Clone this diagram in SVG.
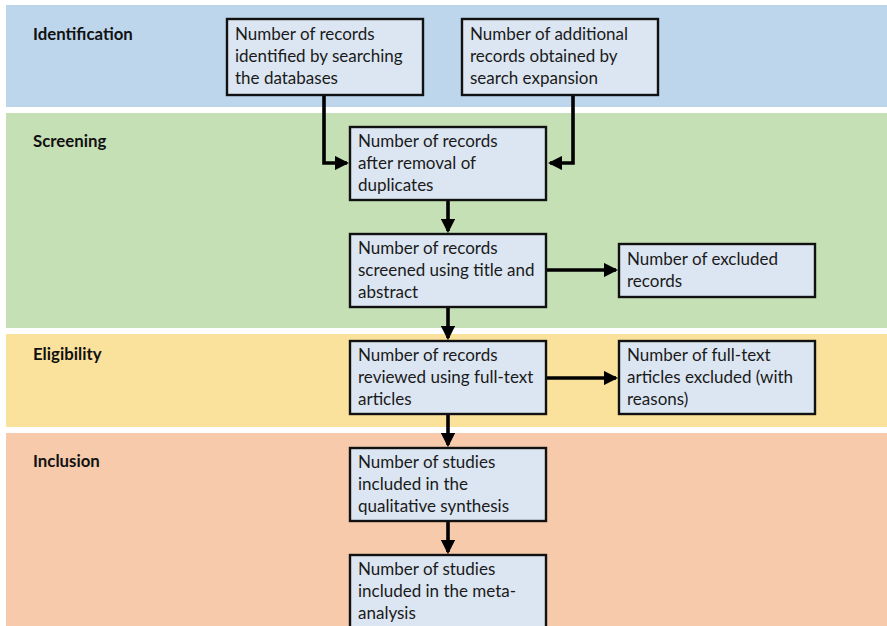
<svg xmlns="http://www.w3.org/2000/svg" width="887" height="626" viewBox="0 0 887 626">
  <style>
    .band-label { font-family: "Lato", "Liberation Sans", sans-serif; font-size: 16.8px; font-weight: bold; fill: #111; }
    .box rect { fill: #dce6f2; stroke: #111; stroke-width: 2.4; }
    .box text { font-family: "Lato", "Liberation Sans", sans-serif; font-size: 17px; fill: #1a1a1a; }
    .conn { fill: none; stroke: #000; stroke-width: 3.6; }
  </style>
  <defs>
    <marker id="head" markerWidth="4" markerHeight="4" refX="3.4" refY="2" orient="auto" markerUnits="strokeWidth">
      <path d="M0,0 L4,2 L0,4 Z" fill="#000"/>
    </marker>
  </defs>

  <rect width="887" height="626" fill="#ffffff"/>

  <!-- phase bands -->
  <g id="bands">
    <rect x="6" y="5" width="881" height="102" fill="#bdd6ec"/>
    <rect x="6" y="113" width="881" height="215" fill="#c6e0b5"/>
    <rect x="6" y="334" width="881" height="93" fill="#fbe29c"/>
    <rect x="6" y="433" width="881" height="193" fill="#f6caab"/>
    <text class="band-label" x="33" y="40">Identification</text>
    <text class="band-label" x="33" y="147">Screening</text>
    <text class="band-label" x="33" y="360">Eligibility</text>
    <text class="band-label" x="33" y="467">Inclusion</text>
  </g>

  <!-- connectors -->
  <g id="connectors">
    <path class="conn" d="M324,95 V163 H347" marker-end="url(#head)"/>
    <path class="conn" d="M573,95 V163 H550" marker-end="url(#head)"/>
    <path class="conn" d="M448,200 V231" marker-end="url(#head)"/>
    <path class="conn" d="M546,270 H616" marker-end="url(#head)"/>
    <path class="conn" d="M448,307 V338" marker-end="url(#head)"/>
    <path class="conn" d="M546,378 H616" marker-end="url(#head)"/>
    <path class="conn" d="M448,414 V445" marker-end="url(#head)"/>
    <path class="conn" d="M448,521 V552" marker-end="url(#head)"/>
  </g>

  <g id="records-identified" class="box">
    <rect x="227" y="19" width="196" height="76"/>
    <text x="235" y="40">Number of records</text>
    <text x="235" y="62">identified by searching</text>
    <text x="235" y="84">the databases</text>
  </g>

  <g id="records-additional" class="box">
    <rect x="462" y="19" width="196" height="76"/>
    <text x="470" y="40">Number of additional</text>
    <text x="470" y="62">records obtained by</text>
    <text x="470" y="84">search expansion</text>
  </g>

  <g id="records-deduplicated" class="box">
    <rect x="350" y="127" width="196" height="73"/>
    <text x="358" y="147">Number of records</text>
    <text x="358" y="169">after removal of</text>
    <text x="358" y="191">duplicates</text>
  </g>

  <g id="records-screened" class="box">
    <rect x="350" y="234" width="196" height="73"/>
    <text x="358" y="254">Number of records</text>
    <text x="358" y="276">screened using title and</text>
    <text x="358" y="298">abstract</text>
  </g>

  <g id="records-excluded" class="box">
    <rect x="619" y="244" width="196" height="53"/>
    <text x="627" y="265">Number of excluded</text>
    <text x="627" y="287">records</text>
  </g>

  <g id="records-fulltext" class="box">
    <rect x="350" y="341" width="196" height="73"/>
    <text x="358" y="361">Number of records</text>
    <text x="358" y="383">reviewed using full-text</text>
    <text x="358" y="405">articles</text>
  </g>

  <g id="fulltext-excluded" class="box">
    <rect x="619" y="341" width="196" height="73"/>
    <text x="627" y="361">Number of full-text</text>
    <text x="627" y="383">articles excluded (with</text>
    <text x="627" y="405">reasons)</text>
  </g>

  <g id="studies-qualitative" class="box">
    <rect x="350" y="448" width="196" height="73"/>
    <text x="358" y="468">Number of studies</text>
    <text x="358" y="490">included in the</text>
    <text x="358" y="512">qualitative synthesis</text>
  </g>

  <g id="studies-meta" class="box">
    <rect x="350" y="555" width="196" height="80"/>
    <text x="358" y="575">Number of studies</text>
    <text x="358" y="597">included in the meta-</text>
    <text x="358" y="619">analysis</text>
  </g>
</svg>
